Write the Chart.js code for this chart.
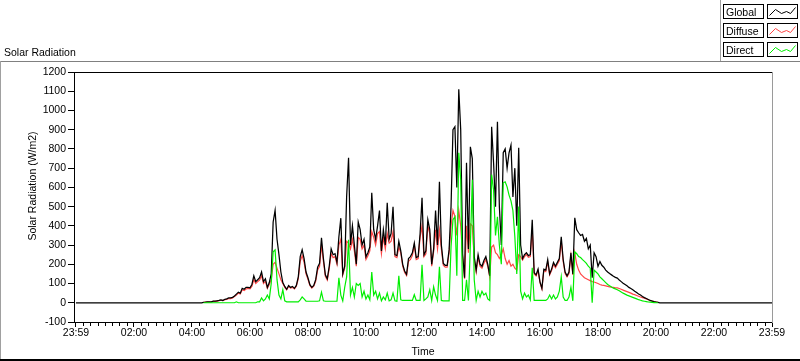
<!DOCTYPE html>
<html><head><meta charset="utf-8">
<script src="https://cdn.jsdelivr.net/npm/chart.js@4.4.1/dist/chart.umd.min.js"></script>
<style>html,body{margin:0;padding:0;background:#fff;overflow:hidden}#wrap{position:relative;width:800px;height:361px}</style>
</head><body><div id="wrap"><canvas id="c" width="800" height="361"></canvas></div>
<script>
const chartTitle = 'Solar Radiation';
const yAxisTitle = 'Solar Radiation (W/m2)';
const xAxisTitle = 'Time';
const seriesNames = ['Global', 'Diffuse', 'Direct'];
const seriesColors = ['#000000', '#ff4646', '#00ee00'];
const startMinute = 260;   // 04:20
const stepMinutes = 4;
const nightMinutes = [0, 1440];
const nightValues = [0, 0];

const globalW = [
0,2,3,5,5,5,8,8,10,12,
15,12,18,20,25,25,28,35,45,55,
50,75,70,80,80,78,95,140,110,120,
130,160,110,125,80,105,150,420,480,330,
250,160,105,85,70,90,80,85,75,90,
135,240,275,230,160,130,94,80,90,120,
185,205,338,230,145,125,190,280,250,255,
210,343,440,150,190,551,754,300,400,300,
200,420,380,300,330,239,260,290,572,380,
330,400,480,270,380,300,520,330,360,499,
250,245,320,270,200,165,148,230,240,260,
310,235,240,360,546,250,270,432,380,200,
280,480,300,629,300,205,195,195,275,500,
900,915,600,1110,900,250,130,728,280,811,
750,240,170,250,200,190,220,240,200,140,
915,728,500,941,500,300,780,800,700,780,
820,550,700,400,806,300,230,250,260,245,
250,432,156,145,175,109,75,175,170,224,
150,175,210,190,210,230,343,225,160,140,
160,260,150,442,380,364,350,355,320,335,
280,300,130,260,240,190,215,195,185,170,
160,152,145,138,132,128,118,110,102,95,
88,80,74,68,60,53,46,40,33,27,
22,17,12,9,6,4,2,0,0,0,
0];

const diffuseW = [
null,2,3,4,4,4,7,7,9,11,
13,11,16,18,22,22,25,32,40,50,
46,68,64,72,75,72,85,120,100,110,
118,140,100,112,75,95,120,200,210,180,
150,120,100,80,68,85,76,80,72,86,
125,215,245,210,150,122,90,76,86,112,
170,190,300,215,138,118,178,255,235,240,
200,300,330,145,180,320,310,280,330,270,
190,340,330,280,300,225,245,270,370,340,
300,360,370,255,340,280,360,310,320,370,
240,235,290,260,190,158,142,215,225,245,
300,225,230,340,400,240,255,400,360,190,
265,380,280,380,280,195,185,185,260,400,
480,450,350,480,400,240,125,400,260,410,
400,225,160,235,190,180,205,225,190,135,
290,300,260,250,230,250,280,230,200,220,
190,200,180,170,250,240,222,240,250,236,
240,380,150,140,168,105,72,168,162,212,
145,168,200,182,200,220,320,215,152,135,
152,245,145,260,200,170,150,140,130,125,
120,115,110,108,104,100,95,92,90,88,
85,83,81,80,78,77,74,70,66,62,
58,54,50,45,42,38,34,30,27,24,
20,16,12,9,6,4,2,null,null,null,
null];

const directW = [
null,0,0,0,0,0,0,0,0,0,
0,0,0,0,0,0,0,0,5,0,
0,0,0,0,0,0,0,0,0,5,
5,25,10,20,40,20,100,265,275,120,
40,20,68,10,5,5,5,5,5,5,
5,15,30,20,8,8,8,8,8,8,
8,10,55,10,8,8,8,8,8,8,
8,130,40,10,80,135,328,40,80,30,
100,90,100,30,60,20,40,15,160,40,
60,20,50,10,30,15,50,10,15,50,
10,8,140,15,12,12,12,12,12,12,
42,12,12,12,198,12,20,30,68,12,
83,40,12,187,12,10,10,10,10,291,
432,447,140,780,640,12,12,120,12,300,
640,120,12,60,30,60,40,50,20,12,
666,588,350,447,300,200,624,629,603,560,
530,480,343,150,500,60,20,50,30,40,
15,182,12,12,12,12,12,12,12,20,
40,20,40,20,30,60,135,30,12,12,
30,80,10,265,255,240,235,224,215,205,
190,180,0,170,160,150,135,125,115,105,
95,88,82,76,72,68,62,56,50,45,
40,36,32,28,24,20,16,13,10,8,
6,4,3,2,1,0,0,null,null,null,
null];

const xTickMinutes = [0,120,240,360,480,600,720,840,960,1080,1200,1320,1440];
const xTickLabels = ['23:59','02:00','04:00','06:00','08:00','10:00','12:00','14:00','16:00','18:00','20:00','22:00','23:59'];
const yTickValues = [-100,0,100,200,300,400,500,600,700,800,900,1000,1100,1200];

const FONT_FAMILY = '"Liberation Sans", Arial, sans-serif';
const FONT = {family: FONT_FAMILY, size: 10.5};

function toPoints(vals) {
  return vals.map((v, i) => ({x: startMinute + stepMinutes * i, y: v}));
}
const globalData = [{x: nightMinutes[0], y: nightValues[0]}, ...toPoints(globalW), {x: nightMinutes[1], y: nightValues[1]}];
const diffuseData = toPoints(diffuseW);
const directData = toPoints(directW);

const decor = {
  id: 'decor',
  beforeDraw(chart) {
    const ctx = chart.ctx;
    ctx.save(); ctx.fillStyle = '#fff'; ctx.fillRect(0, 0, chart.width, chart.height); ctx.restore();
  },
  afterDraw(chart) {
    const ctx = chart.ctx, a = chart.chartArea, xs = chart.scales.x;
    ctx.save();
    ctx.lineWidth = 1;
    ctx.strokeStyle = '#000';
    ctx.beginPath(); ctx.moveTo(a.left, a.top + 0.5); ctx.lineTo(a.right, a.top + 0.5); ctx.stroke();
    ctx.strokeStyle = '#9a9a9a';
    ctx.beginPath(); ctx.moveTo(a.right + 0.5, a.top); ctx.lineTo(a.right + 0.5, a.bottom + 1); ctx.stroke();
    ctx.strokeStyle = '#000';
    ctx.beginPath();
    for (let m = 15; m < 1440; m += 15) {
      if (m % 120 === 0) continue;
      const px = Math.round(xs.getPixelForValue(m)) + 0.5;
      ctx.moveTo(px, a.bottom + 1); ctx.lineTo(px, a.bottom + 4);
    }
    ctx.stroke();
    ctx.strokeStyle = '#808080';
    ctx.beginPath(); ctx.moveTo(0, 61.5); ctx.lineTo(800, 61.5); ctx.stroke();
    ctx.strokeStyle = '#a0a0a0';
    ctx.beginPath(); ctx.moveTo(0.5, 61); ctx.lineTo(0.5, 361); ctx.stroke();
    ctx.beginPath(); ctx.moveTo(720.5, 0); ctx.lineTo(720.5, 61); ctx.stroke();
    ctx.fillStyle = '#000';
    ctx.fillRect(0, 359, 800, 2);
    ctx.font = '10.5px ' + FONT_FAMILY;
    ctx.fillStyle = '#000';
    ctx.textBaseline = 'alphabetic';
    ctx.textAlign = 'left';
    ctx.fillText(chartTitle, 4, 56);
    // y axis title
    ctx.save();
    ctx.translate(36, 186);
    ctx.rotate(-Math.PI / 2);
    ctx.textAlign = 'center';
    ctx.fillText(yAxisTitle, 0, 0);
    ctx.restore();
    // legend
    const rowsTop = [4, 23, 42];
    const zig = [[2,11],[8,5],[14,9],[19,7],[23,9],[28,3]];
    for (let r = 0; r < 3; r++) {
      const t = rowsTop[r];
      ctx.fillStyle = '#fff';
      ctx.fillRect(723, t, 41, 15);
      ctx.fillRect(767, t, 31, 15);
      ctx.strokeStyle = '#000';
      ctx.strokeRect(723.5, t + 0.5, 40, 14);
      ctx.strokeRect(767.5, t + 0.5, 30, 14);
      ctx.fillStyle = '#000';
      ctx.fillText(seriesNames[r], 726, t + 12);
      ctx.strokeStyle = seriesColors[r];
      ctx.beginPath();
      zig.forEach((p, k) => { const X = 767 + p[0] + 0.5, Y = t + p[1] + 0.5; k ? ctx.lineTo(X, Y) : ctx.moveTo(X, Y); });
      ctx.stroke();
    }
    ctx.restore();
  }
};

new Chart(document.getElementById('c'), {
  type: 'line',
  data: {
    datasets: [
      {label: seriesNames[2], data: directData, borderColor: seriesColors[2], borderWidth: 1.2},
      {label: seriesNames[0], data: globalData, borderColor: seriesColors[0], borderWidth: 1.25},
      {label: seriesNames[1], data: diffuseData, borderColor: seriesColors[1], borderWidth: 1.2}
    ].map(d => Object.assign(d, {pointRadius: 0, tension: 0, fill: false, spanGaps: false}))
  },
  options: {
    responsive: false, animation: false, devicePixelRatio: 1,
    layout: {padding: {left: 0, top: 72, right: 28, bottom: 0}},
    plugins: {legend: {display: false}, tooltip: {enabled: false}, title: {display: false}},
    scales: {
      x: {
        type: 'linear', min: -4, max: 1440,
        afterBuildTicks: s => { s.ticks = xTickMinutes.map(v => ({value: v})); },
        afterFit: s => { s.height = 39; },
        ticks: {autoSkip: false, maxRotation: 0, padding: 0, color: '#000', font: FONT,
          callback: v => xTickLabels[xTickMinutes.indexOf(v)]},
        grid: {drawOnChartArea: false, tickLength: 5, color: '#000'},
        border: {display: true, color: '#000', width: 1},
        title: {display: true, text: xAxisTitle, color: '#000', font: FONT, padding: {top: 0, bottom: 3}}
      },
      y: {
        type: 'linear', min: -100, max: 1200,
        afterBuildTicks: s => { s.ticks = yTickValues.map(v => ({value: v})); },
        afterFit: s => { s.width = 74; },
        ticks: {padding: 2, color: '#000', font: FONT, callback: v => String(v)},
        grid: {drawOnChartArea: false, tickLength: 6, color: '#000'},
        border: {display: true, color: '#000', width: 1},
        title: {display: false}
      }
    }
  },
  plugins: [decor]
});
</script>
</body></html>
